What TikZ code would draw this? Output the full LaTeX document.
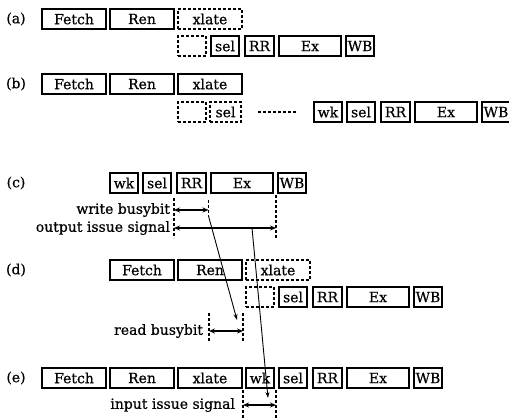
\documentclass[tikz,border=0pt]{standalone}
\usepackage{fontspec}
\setmainfont{DejaVu Serif}
\newfontfamily\figfont{DejaVu Serif}[FakeBold=0.6]
\usepackage{graphicx}
\usetikzlibrary{arrows.meta}
\begin{document}
\begin{tikzpicture}[x=1pt,y=-1pt,
  every node/.style={font=\figfont\fontsize{14}{16}\selectfont, inner sep=0pt, outer sep=0pt},
  stg/.style={draw, line width=1.6pt, minimum height=20pt},
  dstg/.style={draw, line width=1.6pt, dash pattern=on 3pt off 2pt, minimum height=20pt},
  sig/.style={line width=1.6pt, dash pattern=on 3pt off 2pt},
  dbl/.style={line width=1.4pt, {Stealth[length=6pt,width=5pt]}-{Stealth[length=6pt,width=5pt]}},
  diag/.style={line width=0.9pt, -{Stealth[length=6pt,width=4pt]}},
  wide/.style={minimum width=64pt},
  narrow/.style={minimum width=28pt},
  rrw/.style={minimum width=29pt},
  exw/.style={minimum width=62pt}
]
\useasboundingbox (0,0) rectangle (509,419);
% ---------- (a)
\node (la) at (16,19) {(a)};
\node[stg,wide] (aF) at (74,19) {Fetch};
\node[stg,wide] (aR) at (142,19) {Ren};
\node[dstg,wide] (aX) at (210,19) {xlate};
\node[dstg,narrow] (aE) at (192,46) {};
\node[stg,narrow] (aS) at (225,46) {sel};
\node[stg,rrw] (aRR) at (259.5,46) {RR};
\node[stg,exw] (aEx) at (310,46) {Ex};
\node[stg,narrow] (aW) at (360,46) {WB};
% ---------- (b)
\node (lb) at (16,84) {(b)};
\node[stg,wide] (bF) at (74,84) {Fetch};
\node[stg,wide] (bR) at (142,84) {Ren};
\node[stg,wide] (bX) at (210,84) {xlate};
\node[dstg,narrow] (bE) at (192,112) {};
\node[dstg,minimum width=31pt] (bS0) at (225.5,112) {sel};
\coordinate (bd1) at (258,112);
\coordinate (bd2) at (297,112);
\draw[sig] (bd1) -- (bd2);
\node[stg,narrow] (bwk) at (328,112) {wk};
\node[stg,narrow] (bS) at (361,112) {sel};
\node[stg,rrw] (bRR) at (395.5,112) {RR};
\node[stg,exw] (bEx) at (446,112) {Ex};
\node[stg,narrow] (bW) at (496,112) {WB};
% ---------- (c)
\node (lc) at (16,183) {(c)};
\node[stg,narrow] (cwk) at (124,183) {wk};
\node[stg,narrow] (cS) at (157,183) {sel};
\node[stg,rrw] (cRR) at (191.5,183) {RR};
\node[stg,exw] (cEx) at (242,183) {Ex};
\node[stg,narrow] (cW) at (292,183) {WB};
\coordinate (c1t) at (174,198);   \coordinate (c1b) at (174,238);
\coordinate (c2t) at (208.5,200); \coordinate (c2b) at (208.5,216);
\coordinate (c3t) at (276,195);   \coordinate (c3b) at (276,238);
\draw[sig] (c1t) -- (c1b);
\draw[sig] (c2t) -- (c2b);
\draw[sig] (c3t) -- (c3b);
\coordinate (wbL) at (174,210); \coordinate (wbR) at (208.5,210);
\coordinate (oiL) at (174,228); \coordinate (oiR) at (276,228);
\draw[dbl] (wbL) -- (wbR);
\draw[dbl] (oiL) -- (oiR);
\node[anchor=east] (twb) at (170,210) {write busybit};
\node[anchor=east] (toi) at (170,228) {output issue signal};
% ---------- (d)
\node (ld) at (16,270) {(d)};
\node[stg,wide] (dF) at (142,270) {Fetch};
\node[stg,wide] (dR) at (210,270) {Ren};
\node[dstg,wide] (dX) at (278,270) {xlate};
\node[dstg,narrow] (dE) at (260,297) {};
\node[stg,narrow] (dS) at (293,297) {sel};
\node[stg,rrw] (dRR) at (327.5,297) {RR};
\node[stg,exw] (dEx) at (378,297) {Ex};
\node[stg,narrow] (dW) at (428,297) {WB};
\coordinate (r1t) at (209,313); \coordinate (r1b) at (209,341);
\coordinate (r2t) at (243,313); \coordinate (r2b) at (243,341);
\draw[sig] (r1t) -- (r1b);
\draw[sig] (r2t) -- (r2b);
\coordinate (rbL) at (209,331); \coordinate (rbR) at (243,331);
\draw[dbl] (rbL) -- (rbR);
\node[anchor=east] (trb) at (203,331) {read busybit};
% ---------- (e)
\node (le) at (16,378) {(e)};
\node[stg,wide] (eF) at (74,378) {Fetch};
\node[stg,wide] (eR) at (142,378) {Ren};
\node[stg,wide] (eX) at (210,378) {xlate};
\node[stg,narrow] (ewk) at (260,378) {wk};
\node[stg,narrow] (eS) at (293,378) {sel};
\node[stg,rrw] (eRR) at (327.5,378) {RR};
\node[stg,exw] (eEx) at (378,378) {Ex};
\node[stg,narrow] (eW) at (428,378) {WB};
\coordinate (i1t) at (243,390); \coordinate (i1b) at (243,420);
\coordinate (i2t) at (276,390); \coordinate (i2b) at (276,420);
\draw[sig] (i1t) -- (i1b);
\draw[sig] (i2t) -- (i2b);
\coordinate (isL) at (243,405); \coordinate (isR) at (276,405);
\draw[dbl] (isL) -- (isR);
\node[anchor=east] (tis) at (235,405) {input issue signal};
% ---------- diagonal connectors
\coordinate (g1e) at (237,320);
\coordinate (g2s) at (252,228);
\coordinate (g2e) at (268,398);
\draw[diag] (c2b) -- (g1e);
\draw[diag] (g2s) -- (g2e);
\end{tikzpicture}
\end{document}
